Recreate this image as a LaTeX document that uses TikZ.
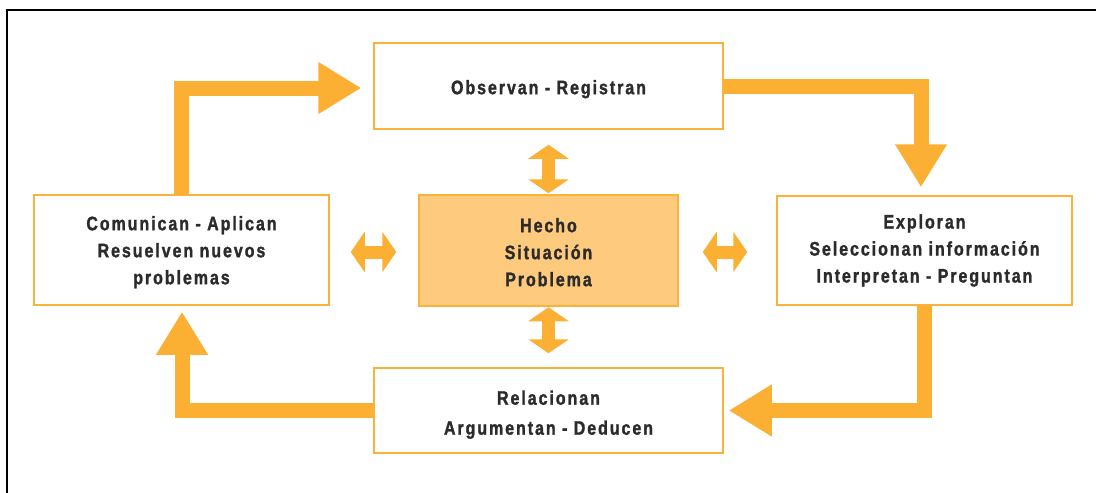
\documentclass[tikz,border=0pt]{standalone}
\usepackage{fontspec}
\setmainfont{Liberation Sans}
\newfontfamily\lblfont[LetterSpace=10,FakeStretch=0.82,FakeBold=1.4]{Liberation Sans}
\usetikzlibrary{arrows.meta}
\definecolor{orng}{HTML}{FBB034}
\definecolor{boxline}{HTML}{FBB23A}
\definecolor{cfill}{HTML}{FECB7E}
\definecolor{txt}{HTML}{2B2B2B}
\newcommand{\lowr}[1]{\rule{0pt}{#1}}
\begin{document}
\begin{tikzpicture}[x=1pt,y=-1pt,
  box/.style={draw=boxline, line width=1.5pt, fill=white, inner sep=0pt,
    align=center, text=txt, font=\lblfont\bfseries\fontsize{19.5}{27}\selectfont},
  bigarrow/.style={draw=orng, line width=15pt, line join=miter,
    -{Triangle[width=49pt,length=43pt]}},
  dbl/.style={draw=orng, line width=13pt,
    {Triangle[width=40pt,length=14pt]}-{Triangle[width=40pt,length=14pt]}},
  frame/.style={draw=black, line width=2.5pt}]
\useasboundingbox (0,0) rectangle (1096,493);
\draw[frame] (7,493) -- (7,10) -- (1096,10);

\node[box, minimum width=349pt, minimum height=86pt] (T) at (548.5,86) {\lowr{20.5pt}Observan - Registran};
\node[box, minimum width=295pt, minimum height=110pt] (L) at (181.5,250) {\lowr{18.5pt}Comunican - Aplican\\Resuelven nuevos\\problemas};
\node[box, fill=cfill, minimum width=259pt, minimum height=111pt] (C) at (548.5,250.5) {\lowr{17.5pt}Hecho\\Situación\\Problema};
\node[box, minimum width=295pt, minimum height=109pt] (R) at (924.5,250.5) {Exploran\\Seleccionan información\\Interpretan - Preguntan};
\node[box, minimum width=349pt, minimum height=85pt,
  font=\lblfont\bfseries\fontsize{19.5}{30}\selectfont] (B) at (548.5,410.5) {\lowr{22.5pt}Relacionan\\Argumentan - Deducen};

\draw[bigarrow] (L.north) |- ([xshift=-12pt,yshift=-2pt]T.west);
\draw[bigarrow] (T.east) -| ([xshift=-3.5pt,yshift=8pt]R.north);
\draw[bigarrow] (R.south) |- ([xshift=5pt]B.east);
\draw[bigarrow] (B.west) -| ([xshift=0.5pt,yshift=-6pt]L.south);

\draw[dbl] ([xshift=21pt,yshift=-2pt]L.east) -- ([xshift=-22pt,yshift=-1.5pt]C.west);
\draw[dbl] ([xshift=24pt,yshift=-1.5pt]C.east) -- ([xshift=-29pt,yshift=-1.5pt]R.west);
\draw[dbl] ([yshift=-15pt]T.south) -- ([yshift=1pt]C.north);
\draw[dbl] ([yshift=-0.5pt]C.south) -- ([yshift=14pt]B.north);
\end{tikzpicture}
\end{document}
